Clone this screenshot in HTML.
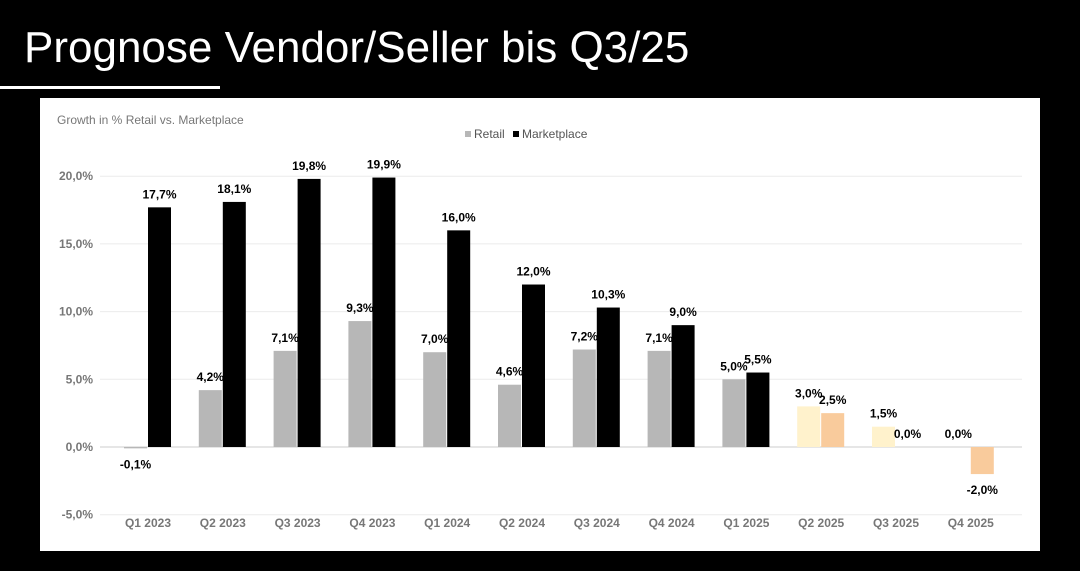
<!DOCTYPE html>
<html><head><meta charset="utf-8"><style>
body{margin:0;background:#000;width:1080px;height:571px;overflow:hidden;font-family:"Liberation Sans",sans-serif}
#title{position:absolute;left:24px;top:22px;color:#fff;font-size:44px;line-height:52px;white-space:nowrap}
#uline{position:absolute;left:0;top:86px;width:220px;height:3px;background:#fff}
#panel{position:absolute;left:40px;top:98px;width:1000px;height:453px;background:#fff}
svg{position:absolute;left:0;top:0}
</style></head><body>
<div id="title">Prognose Vendor/Seller bis Q3/25</div>
<div id="uline"></div>
<div id="panel"></div>
<svg id="chart" width="1080" height="571"></svg>
<script>
const categories=["Q1 2023","Q2 2023","Q3 2023","Q4 2023","Q1 2024","Q2 2024","Q3 2024","Q4 2024","Q1 2025","Q2 2025","Q3 2025","Q4 2025"];
const retail=[-0.1,4.2,7.1,9.3,7.0,4.6,7.2,7.1,5.0,3.0,1.5,0.0];
const marketplace=[17.7,18.1,19.8,19.9,16.0,12.0,10.3,9.0,5.5,2.5,0.0,-2.0];
const forecast=[false,false,false,false,false,false,false,false,false,true,true,true];
const yTicks=[-5,0,5,10,15,20];
const NS="http://www.w3.org/2000/svg";
const svg=document.getElementById('chart');
const y=v=>447-v*13.54;
const x=i=>148+i*74.8;
const fmt=v=>v.toFixed(1).replace('.',',')+'%';
function mk(t,a,txt){const e=document.createElementNS(NS,t);for(const k in a)e.setAttribute(k,a[k]);if(txt!==undefined)e.textContent=txt;svg.appendChild(e);return e;}
yTicks.forEach(t=>{
  const g=mk('line',{x1:100,x2:1022,y1:y(t),y2:y(t),stroke:t===0?'#ccc':'#ebebeb','stroke-width':1});
  
  
  const l=mk('text',{x:93,y:y(t)+4,'text-anchor':'end','font-size':12,'font-weight':'bold',fill:'#777'},fmt(t));
  
  
});
categories.forEach((c,i)=>{
  const cx=x(i);
  const l=mk('text',{x:cx,y:527,'text-anchor':'middle','font-size':12,'font-weight':'bold',fill:'#777'},c);
  
  
  [[retail[i],cx-24,forecast[i]?'#fff2cc':'#b7b7b7','retail'],[marketplace[i],cx,forecast[i]?'#f9cb9c':'#000','marketplace']].forEach(([v,bx,col,s])=>{
    const top=Math.min(y(v),y(0)),h=Math.abs(y(v)-y(0));
    const b=mk('rect',{x:bx,y:top,width:23,height:h,fill:col});
    
    
    const ly=v<0?y(v)+20:y(v)-9;
    const t=mk('text',{x:bx+11.5,y:ly,'text-anchor':'middle','font-size':12,'font-weight':'bold',fill:'#000'},fmt(v));
    
    
  });
});
const ct=mk('text',{x:57,y:124,'font-size':12,fill:'#777'},'Growth in % Retail vs. Marketplace');


const lr=mk('rect',{x:465,y:131,width:6,height:6,fill:'#b7b7b7'});


const lrt=mk('text',{x:474,y:138,'font-size':12,fill:'#555'},'Retail');


const lm=mk('rect',{x:513,y:131,width:6,height:6,fill:'#000'});


const lmt=mk('text',{x:522,y:138,'font-size':12,fill:'#555'},'Marketplace');


</script>
</body></html>
